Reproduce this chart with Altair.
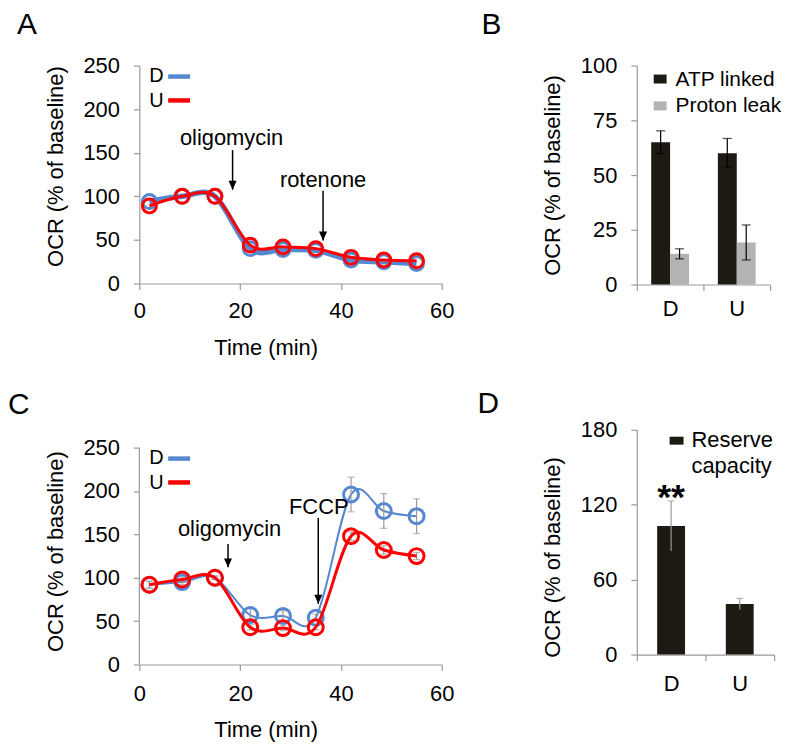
import altair as alt
import pandas as pd

FONT = "Liberation Sans, Arial, Helvetica, sans-serif"
BLUE = "#5588d0"
RED = "#ff0000"
AXC = "#9a9a9a"
DARK = "#1c1a12"
GREY = "#b3b3b3"

# ---------------- data ----------------
times = [2, 8.5, 15, 22, 28.5, 35, 42, 48.5, 55]
a_D = [94, 100, 100, 40, 39, 38, 27, 25, 23]
a_U = [89, 100, 100, 44, 42, 40, 30, 27, 26]
c_D = [92, 95, 100, 57, 56, 54, 196, 177, 171]
c_U = [92, 98, 100, 43, 42, 43, 148, 132, 125]
c_D_err = [4, 3, 2, 8, 6, 4, 20, 20, 20]
c_U_err = [4, 3, 2, 3, 3, 3, 5, 5, 4]

groups = ["D", "U"]
series_B = ["ATP linked", "Proton leak"]
b_atp = [65, 60]
b_atp_err = [5.2, 6.7]
b_leak = [14, 19.2]
b_leak_err = [2.3, 8]
d_res = [103, 40.5]
d_res_err = [20, 4.5]

arrowsA_t = [18.5, 36.45]
arrowsA_top = [153, 106.5]
arrowsA_tip = [107.6, 49.4]
labelsA = ["oligomycin", "rotenone"]
labelsA_t = [18.3, 36.45]
labelsA_v = [166.7, 119]

arrowsC_t = [17.6, 35.5]
arrowsC_top = [139, 169]
arrowsC_tip = [112, 70]
labelsC = ["oligomycin", "FCCP"]
labelsC_t = [17.9, 35.6]
labelsC_v = [156, 181]

ARROW = "M-0.45,-1L0.45,-1L0,0Z"
YTITLE = "OCR (% of baseline)"


def letter(ch, x, y):
    return alt.Chart(pd.DataFrame({"s": [ch]})).mark_text(
        align="left", baseline="alphabetic", fontSize=30, font=FONT, color="black"
    ).encode(text="s:N", x=alt.value(x), y=alt.value(y))


def ptext(txt, x, y, size=21, align="left"):
    return alt.Chart(pd.DataFrame({"s": [txt]})).mark_text(
        align=align, baseline="alphabetic", fontSize=size, font=FONT, color="black"
    ).encode(text="s:N", x=alt.value(x), y=alt.value(y))


def legline(color, x1, x2, y):
    return alt.Chart(pd.DataFrame({"s": [0]})).mark_rule(
        color=color, strokeWidth=4.5
    ).encode(x=alt.value(x1), x2=alt.value(x2), y=alt.value(y))


def line_panel(dvals, uvals, derr, uerr, ytop, ttl_y, arrows, labels,
               dwidth, uwidth, csize, leg_y, show_axis_rule, lab_pad, tit_pad):
    df = pd.DataFrame({
        "t": times * 2,
        "v": dvals + uvals,
        "g": ["D"] * len(times) + ["U"] * len(times),
    })
    xs = alt.Scale(domain=[0, 60], nice=False)
    ys = alt.Scale(domain=[0, ytop], nice=False)
    xax = alt.Axis(values=[0, 20, 40, 60], title="Time (min)", labelPadding=lab_pad,
                   titlePadding=tit_pad, titleX=127)
    yax = alt.Axis(values=[0, 50, 100, 150, 200, 250], title=YTITLE,
                   labelPadding=14, titlePadding=16, titleY=ttl_y,
                   domain=not show_axis_rule)
    dD = df[df.g == "D"]
    dU = df[df.g == "U"]
    X = alt.X("t:Q", title="Time (min)")
    Y = alt.Y("v:Q", title=YTITLE)
    layers = []
    layers.append(alt.Chart(dD).mark_line(
        color=BLUE, strokeWidth=dwidth, interpolate="cardinal"
    ).encode(x=alt.X("t:Q", scale=xs, axis=xax), y=alt.Y("v:Q", scale=ys, axis=yax)))
    if derr is not None:
        de = pd.DataFrame({"t": times, "v": [v - e for v, e in zip(dvals, derr)],
                           "v2": [v + e for v, e in zip(dvals, derr)]})
        ue = pd.DataFrame({"t": times, "v": [v - e for v, e in zip(uvals, uerr)],
                           "v2": [v + e for v, e in zip(uvals, uerr)]})
        for e in (de, ue):
            layers.append(alt.Chart(e).mark_rule(color=AXC, strokeWidth=1.2).encode(
                x=X, y=Y, y2="v2:Q"))
            layers.append(alt.Chart(e).mark_tick(
                color=AXC, orient="horizontal", size=7, thickness=1.2
            ).encode(x=X, y=Y))
            layers.append(alt.Chart(e.assign(v=e.v2)).mark_tick(
                color=AXC, orient="horizontal", size=7, thickness=1.2
            ).encode(x=X, y=Y))
    layers.append(alt.Chart(dD).mark_point(
        shape="circle", filled=False, size=csize, strokeWidth=3, color=BLUE, opacity=1
    ).encode(x=X, y=Y))
    layers.append(alt.Chart(dU).mark_line(
        color=RED, strokeWidth=uwidth, interpolate="cardinal"
    ).encode(x=X, y=Y))
    layers.append(alt.Chart(dU).mark_point(
        shape="circle", filled=False, size=csize, strokeWidth=3, color=RED, opacity=1
    ).encode(x=X, y=Y))
    # arrows
    at, atop, atip = arrows
    adf = pd.DataFrame({"t": at, "v": atop, "v2": atip})
    layers.append(alt.Chart(adf).mark_rule(color="black", strokeWidth=1.5).encode(
        x=X, y=Y, y2="v2:Q"))
    layers.append(alt.Chart(adf.assign(v=adf.v2)).mark_point(
        shape=ARROW, filled=True, size=324, color="black", opacity=1, strokeWidth=0
    ).encode(x=X, y=Y))
    lt, lt_t, lt_v = labels
    ldf = pd.DataFrame({"s": lt, "t": lt_t, "v": lt_v})
    layers.append(alt.Chart(ldf).mark_text(
        fontSize=22, font=FONT, color="black", baseline="middle", align="center"
    ).encode(x=X, y=Y, text="s:N"))
    if show_axis_rule:
        rdf = pd.DataFrame({"t": [0], "v": [0], "v2": [250]})
        layers.append(alt.Chart(rdf).mark_rule(color=AXC, strokeWidth=1.2).encode(
            x=X, y=Y, y2="v2:Q"))
    # legend
    ly1, ly2 = leg_y
    layers.append(ptext("D", 10, ly1 + 5, size=20))
    layers.append(ptext("U", 10, ly2 + 7, size=20))
    layers.append(legline(BLUE, 29, 51, ly1))
    layers.append(legline(RED, 29, 51, ly2))
    return layers


# ---------------- panel A ----------------
pA = alt.layer(
    *line_panel(a_D, a_U, None, None, 250, 101,
                (arrowsA_t, arrowsA_top, arrowsA_tip),
                (labelsA, labelsA_t, labelsA_v),
                5.5, 3, 196, (11, 35), False, 11, 16),
    letter("A", -123, -31.5),
).properties(width=304, height=219)

# ---------------- panel C ----------------
C_H = 236
C_top = 250 * C_H / 218.0
pC = alt.layer(
    *line_panel(c_D, c_U, c_D_err, c_U_err, C_top, 122,
                (arrowsC_t, arrowsC_top, arrowsC_tip),
                (labelsC, labelsC_t, labelsC_v),
                2, 3, 225, (29, 53), True, 13, 15),
    letter("C", -132, -16),
).properties(width=304, height=C_H)

# ---------------- panel B ----------------
dfB = pd.DataFrame({
    "g": groups * 2,
    "s": [series_B[0]] * 2 + [series_B[1]] * 2,
    "v": b_atp + b_leak,
    "e": b_atp_err + b_leak_err,
})
dfB["lo"] = dfB.v - dfB.e
dfB["hi"] = dfB.v + dfB.e
xB = alt.X("g:N", sort=groups, scale=alt.Scale(paddingInner=0, paddingOuter=0),
           axis=alt.Axis(title=None, labelAngle=0, tickBand="extent", labelPadding=8))
xBn = alt.X("g:N", sort=groups, title=None)
offB = alt.XOffset("s:N", sort=series_B, scale=alt.Scale(paddingOuter=0.763, paddingInner=0))
yB = alt.Y("v:Q", scale=alt.Scale(domain=[0, 100], nice=False),
           axis=alt.Axis(values=[0, 25, 50, 75, 100], title=YTITLE,
                         labelPadding=14, titlePadding=16))
YB = alt.Y("v:Q", title=YTITLE)
barsB = alt.Chart(dfB).mark_bar().encode(
    x=xB, xOffset=offB, y=yB,
    color=alt.Color("s:N", scale=alt.Scale(domain=series_B, range=[DARK, GREY]), legend=None),
)
errB = alt.Chart(dfB.assign(v=dfB.lo)).mark_rule(color="black", strokeWidth=1.2).encode(
    x=xBn, xOffset=offB, y=YB, y2="hi:Q")
capB1 = alt.Chart(dfB.assign(v=dfB.lo)).mark_tick(
    color="black", orient="horizontal", size=9, thickness=1.2).encode(x=xBn, xOffset=offB, y=YB)
capB2 = alt.Chart(dfB.assign(v=dfB.hi)).mark_tick(
    color="black", orient="horizontal", size=9, thickness=1.2).encode(x=xBn, xOffset=offB, y=YB)
legB = [
    alt.Chart(pd.DataFrame({"s": [0]})).mark_rect(color=DARK).encode(
        x=alt.value(17), x2=alt.value(30), y=alt.value(9), y2=alt.value(18)),
    alt.Chart(pd.DataFrame({"s": [0]})).mark_rect(color=GREY).encode(
        x=alt.value(17), x2=alt.value(30), y=alt.value(36), y2=alt.value(45)),
    ptext("ATP linked", 39, 21),
    ptext("Proton leak", 39, 47),
]
pB = alt.layer(barsB, errB, capB1, capB2, *legB, letter("B", -156, -31.5)).properties(
    width=134, height=220)

# ---------------- panel D ----------------
dfD = pd.DataFrame({"g": groups, "v": d_res, "e": d_res_err})
dfD["lo"] = dfD.v - dfD.e
dfD["hi"] = dfD.v + dfD.e
xD = alt.X("g:N", sort=groups, scale=alt.Scale(paddingInner=0, paddingOuter=0),
           axis=alt.Axis(title=None, labelAngle=0, tickBand="extent", labelPadding=13))
xDn = alt.X("g:N", sort=groups, title=None)
yD = alt.Y("v:Q", scale=alt.Scale(domain=[0, 180], nice=False),
           axis=alt.Axis(values=[0, 60, 120, 180], title=YTITLE,
                         labelPadding=14, titlePadding=16, titleY=128))
YD = alt.Y("v:Q", title=YTITLE)
barsD = alt.Chart(dfD).mark_bar(size=28, color=DARK).encode(x=xD, y=yD)
errD = alt.Chart(dfD.assign(v=dfD.lo)).mark_rule(color=AXC, strokeWidth=1.2).encode(
    x=xDn, y=YD, y2="hi:Q")
capD = alt.Chart(dfD.assign(v=dfD.hi)).mark_tick(
    color=AXC, orient="horizontal", size=7, thickness=1.2).encode(x=xDn, y=YD)
star = alt.Chart(pd.DataFrame({"g": ["D"], "v": [116.6], "s": ["**"]})).mark_text(
    fontSize=36, fontWeight="bold", font=FONT, color="black", baseline="alphabetic"
).encode(x=xDn, y=YD, text="s:N")
legD = [
    alt.Chart(pd.DataFrame({"s": [0]})).mark_rect(color=DARK).encode(
        x=alt.value(33), x2=alt.value(47), y=alt.value(7), y2=alt.value(15)),
    ptext("Reserve", 55, 17, size=22),
    ptext("capacity", 55, 43, size=22),
]
pD = alt.layer(barsD, errD, capD, star, *legD, letter("D", -160, -17)).properties(
    width=138, height=226)

chart = alt.concat(
    pA, pB, pC, pD, columns=2, spacing={"row": 31, "column": 23}
).properties(
    padding={"left": 0, "top": 0, "right": 5, "bottom": 5}
).configure_view(stroke=None).configure_axis(
    domainColor=AXC, tickColor=AXC, labelColor="black", titleColor="black",
    labelFont=FONT, titleFont=FONT, labelFontSize=22, titleFontSize=22,
    titleFontWeight="normal", grid=False, tickSize=6, domainWidth=1.2, tickWidth=1.2,
    labelFlush=False,
).configure_text(font=FONT)

chart.save("out.html", embed_options={"renderer": "svg", "actions": False})
